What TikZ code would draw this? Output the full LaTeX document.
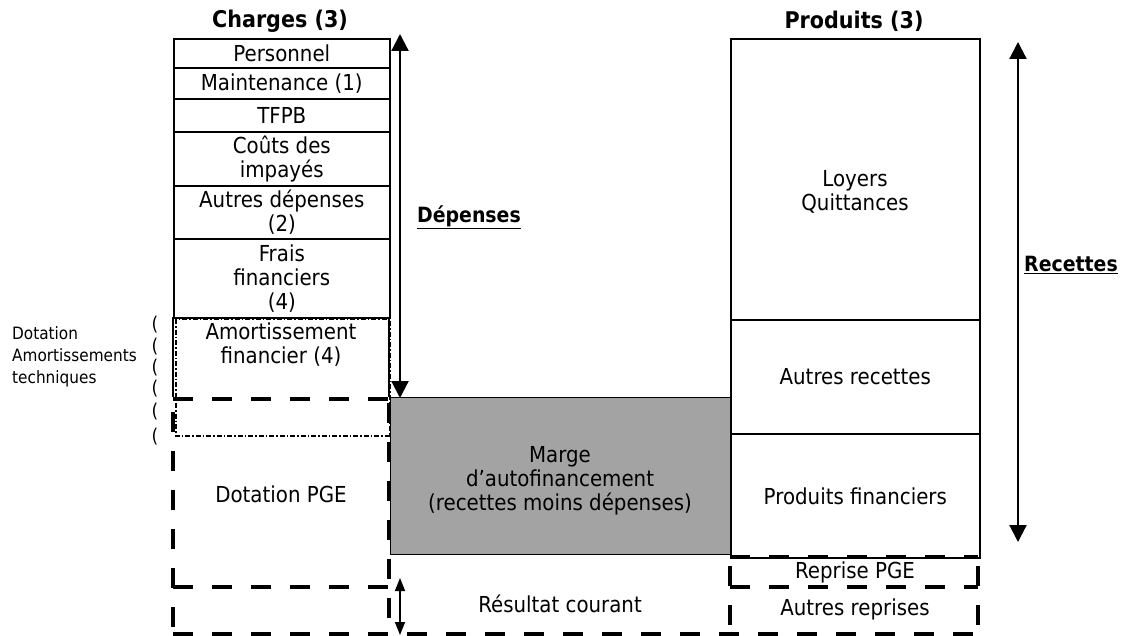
\documentclass[tikz,border=0pt]{standalone}
\usepackage{fontspec}
\setmainfont{DejaVu Sans}[FakeStretch=0.9]
\usetikzlibrary{arrows.meta}
\begin{document}
\begin{tikzpicture}[x=1pt,y=-1pt,
  cell/.style={draw, line width=1.6pt, anchor=north west, inner sep=0pt, align=center, font=\fontsize{22}{24}\selectfont},
  lbl/.style={inner sep=0pt, align=center, font=\fontsize{22}{24}\selectfont},
  small/.style={inner sep=0pt, align=left, font=\fontsize{17}{22}\selectfont},
  parn/.style={inner sep=0pt, font=\fontsize{19}{22}\selectfont},
  ttl/.style={inner sep=0pt, font=\bfseries\fontsize{23}{26}\selectfont},
  side/.style={inner sep=0pt, font=\bfseries\fontsize{21}{24}\selectfont},
  bigdash/.style={line width=4.5pt, dash pattern=on 20pt off 19pt},
  dashdot/.style={line width=1.2pt, dash pattern=on 5pt off 2pt on 1.5pt off 2pt},
  thinline/.style={line width=1.6pt},
  arr/.style={line width=2.2pt, {Triangle[width=17pt,length=17pt]}-{Triangle[width=17pt,length=17pt]}},
  sarr/.style={line width=1.6pt, {Triangle[width=10pt,length=13pt]}-{Triangle[width=10pt,length=13pt]}},
]
\useasboundingbox (0,0) rectangle (1124,636);

% titles
\node[ttl] (tch) at (280,21) {Charges (3)};
\node[ttl] (tpr) at (854,21) {Produits (3)};

% gray box
\node[draw, fill=black!36, line width=1.2pt, anchor=north west, minimum width=340pt, minimum height=157pt, inner sep=0pt] (marge) at (390,397) {};
\node[lbl] (margetxt) at (560,481) {Marge\\d’autofinancement\\(recettes moins dépenses)};

% left column
\node[cell, minimum width=216pt, minimum height=29pt] (pers) at (173,38) {Personnel};
\node[cell, minimum width=216pt, minimum height=31pt] (maint) at (173,67) {Maintenance (1)};
\node[cell, minimum width=216pt, minimum height=33pt] (tfpb) at (173,98) {TFPB};
\node[cell, minimum width=216pt, minimum height=54pt] (couts) at (173,131) {Coûts des\\impayés};
\node[cell, minimum width=216pt, minimum height=53pt] (autd) at (173,185) {Autres dépenses\\(2)};
\node[cell, minimum width=216pt, minimum height=79pt] (frais) at (173,238) {Frais\\financiers\\(4)};
\node[lbl] (amort) at (281,345) {Amortissement\\financier (4)};
\draw[thinline] (173,317) -- (173,397);
\draw[thinline] (389,317) -- (389,397);
\draw[dashdot] (176,319) rectangle (390,436);

% dashed left part
\draw[bigdash] (173,399) -- (389,399);
\draw[bigdash] (173,412) -- (173,634);
\draw[bigdash] (389,403) -- (389,634);
\draw[bigdash] (173,587) -- (389,587);
\draw[bigdash] (173,634) -- (978,634);
\node[lbl] (pge) at (281,494) {Dotation PGE};
\node[lbl] (res) at (560,604) {Résultat courant};

% left notes
\node[small, anchor=west] (dotat) at (12,357) {Dotation\\Amortissements\\techniques};
\foreach \i/\yy in {1/325,2/347,3/368,4/389,5/412,6/437}
  \node[parn] (par\i) at (155,\yy) {(};

% right column
\node[cell, minimum width=249pt, minimum height=281pt] (loyers) at (730,38) {};
\node[lbl] (loyerstxt) at (855,192) {Loyers\\Quittances};
\node[cell, minimum width=249pt, minimum height=114pt] (autr) at (730,319) {Autres recettes};
\node[cell, minimum width=249pt, minimum height=124pt] (prodf) at (730,433) {Produits financiers};
\draw[bigdash] (730,557) -- (978,557);
\draw[bigdash] (730,587) -- (978,587);
\draw[bigdash] (730,566) -- (730,634);
\draw[bigdash] (978,566) -- (978,634);
\node[lbl] (reppge) at (855,572) {Reprise PGE};
\node[lbl] (autrep) at (855,609) {Autres reprises};

% arrows
\coordinate (dtop) at (400,34);
\coordinate (dbot) at (400,398);
\draw[arr] (dtop) -- (dbot);
\coordinate (rtop) at (1018,42);
\coordinate (rbot) at (1018,542);
\draw[arr] (rtop) -- (rbot);
\coordinate (stop) at (400,578);
\coordinate (sbot) at (400,635);
\draw[sarr] (stop) -- (sbot);

\node[side] (dep) at (469,217) {\underline{Dépenses}};
\node[side] (rec) at (1071,265) {\underline{Recettes}};
\end{tikzpicture}
\end{document}
